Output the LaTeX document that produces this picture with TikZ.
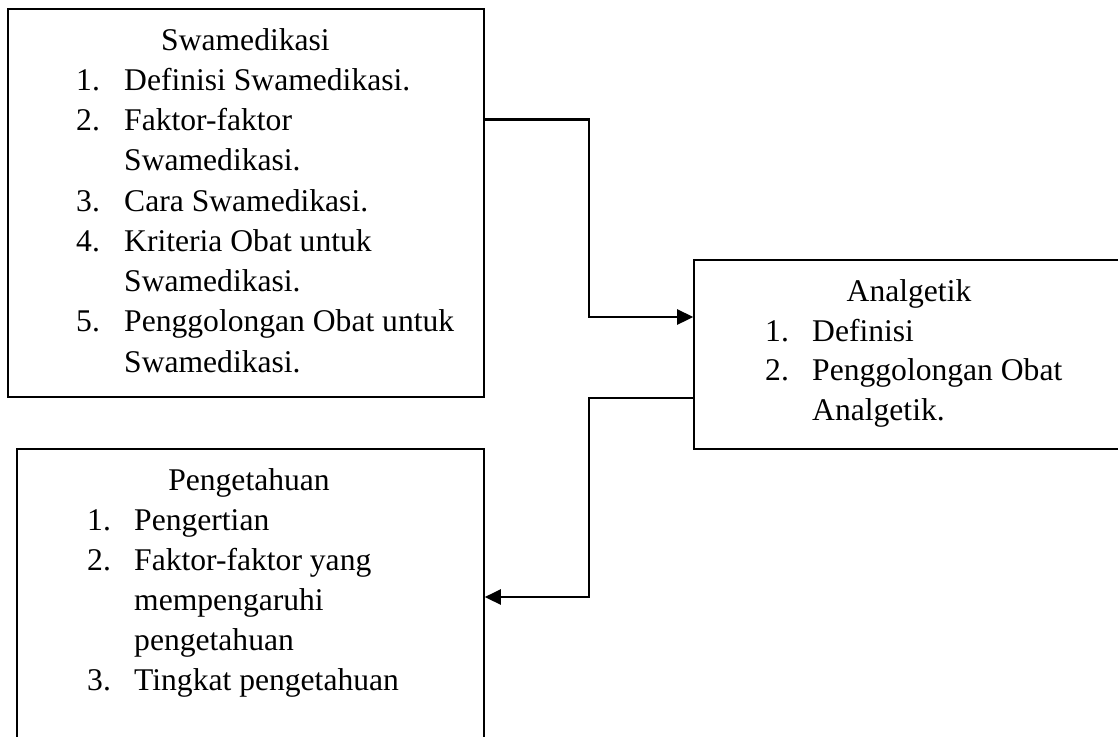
\documentclass[tikz,border=0pt]{standalone}
\usepackage{fontspec}
\setmainfont{Liberation Serif}
\usetikzlibrary{arrows.meta}
\begin{document}
\begin{tikzpicture}[x=1pt,y=-1pt,
  box/.style={draw=black,line width=1.6pt,rectangle,inner sep=0pt},
  txt/.style={inner sep=0pt,anchor=base west,font=\fontsize{31.6}{40.3}\selectfont},
  ttl/.style={inner sep=0pt,anchor=base,font=\fontsize{31.6}{40.3}\selectfont},
  conn/.style={line width=2.6pt,-{Triangle[length=16pt,width=15pt]}}]
\useasboundingbox (0,0) rectangle (1118,736);
\clip (0,0) rectangle (1118,736);
% boxes
\node[box,minimum width=476pt,minimum height=388pt] (swa) at (246,203) {};
\node[box,minimum width=430pt,minimum height=189pt] (ana) at (909,354.5) {};
\node[box,minimum width=467pt,minimum height=331pt] (pen) at (250.5,614.5) {};
% Swamedikasi text
\node[ttl] (s0) at (245.5,50) {Swamedikasi};
\node[txt] (s1n) at (76,90.25) {1.};
\node[txt] (s1) at (124,90.25) {Definisi Swamedikasi.};
\node[txt] (s2n) at (76,130.5) {2.};
\node[txt] (s2) at (124,130.5) {Faktor-faktor};
\node[txt] (s2b) at (124,170.75) {Swamedikasi.};
\node[txt] (s3n) at (76,211) {3.};
\node[txt] (s3) at (124,211) {Cara Swamedikasi.};
\node[txt] (s4n) at (76,251.25) {4.};
\node[txt] (s4) at (124,251.25) {Kriteria Obat untuk};
\node[txt] (s4b) at (124,291.5) {Swamedikasi.};
\node[txt] (s5n) at (76,331.75) {5.};
\node[txt] (s5) at (124,331.75) {Penggolongan Obat untuk};
\node[txt] (s5b) at (124,372) {Swamedikasi.};
% Analgetik text
\node[ttl] (a0) at (909,301.5) {Analgetik};
\node[txt] (a1n) at (765,341) {1.};
\node[txt] (a1) at (812,341) {Definisi};
\node[txt] (a2n) at (765,380.5) {2.};
\node[txt] (a2) at (812,380.5) {Penggolongan Obat};
\node[txt] (a2b) at (812,420.5) {Analgetik.};
% Pengetahuan text
\node[ttl] (p0) at (249,490.5) {Pengetahuan};
\node[txt] (p1n) at (87,530.5) {1.};
\node[txt] (p1) at (134,530.5) {Pengertian};
\node[txt] (p2n) at (87,570.5) {2.};
\node[txt] (p2) at (134,570.5) {Faktor-faktor yang};
\node[txt] (p2b) at (134,610.5) {mempengaruhi};
\node[txt] (p2c) at (134,650.5) {pengetahuan};
\node[txt] (p3n) at (87,690.5) {3.};
\node[txt] (p3) at (134,690.5) {Tingkat pengetahuan};
% connectors
\coordinate (j1) at (589,119.5);
\coordinate (j2) at (589,317);
\coordinate (j3) at (589,398);
\coordinate (j4) at (589,597);
\draw[conn] (j1 -| swa.east) -- (j1) -- (j2) -- (j2 -| ana.west);
\draw[conn] (j3 -| ana.west) -- (j3) -- (j4) -- (j4 -| pen.east);
\end{tikzpicture}
\end{document}
